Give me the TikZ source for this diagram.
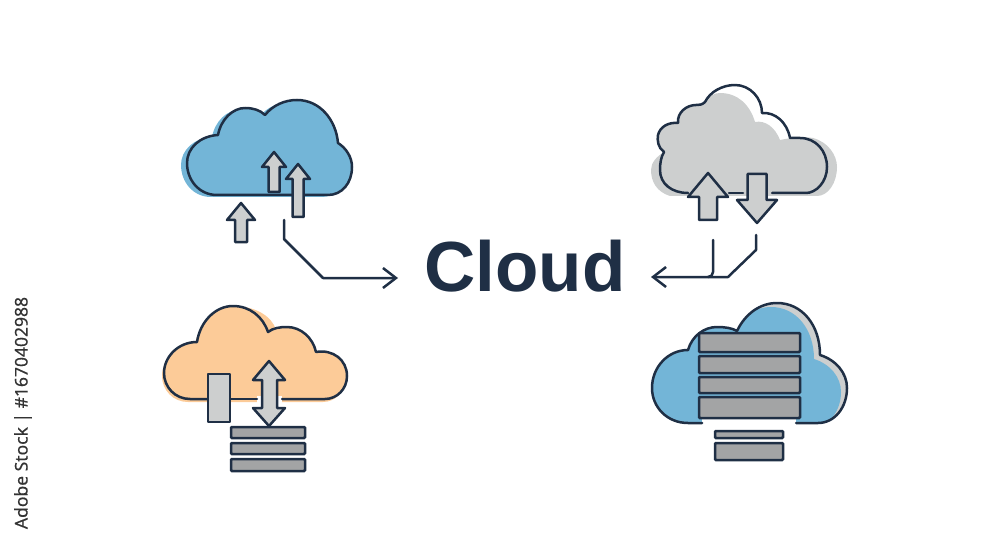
\documentclass[tikz,border=0pt]{standalone}
\usepackage{fontspec}
\setmainfont{Liberation Sans}
\newfontfamily\stampfont[FakeBold=0.4]{Noto Sans}
\usetikzlibrary{arrows.meta}
\definecolor{inkblue}{HTML}{1F2F45}
\definecolor{skyblue}{HTML}{73B5D7}
\definecolor{softgrey}{HTML}{CDCFCF}
\definecolor{peach}{HTML}{FCCB98}
\definecolor{slabgrey}{HTML}{A3A4A5}
\tikzset{
  outline/.style={draw=inkblue,line width=2.5pt,line join=round,line cap=round},
  arrowbox/.style={outline,fill=softgrey},
  slab/.style={rectangle,draw=inkblue,line width=2.5pt,rounded corners=1pt,fill=slabgrey,inner sep=0pt},
  link/.style={draw=inkblue,line width=2.5pt,line join=round,line cap=round,-{Straight Barb[length=13pt,width=20pt,line width=2.5pt]}},
}
% x, tip y, head y, head half width, shaft half width, tail y
\newcommand{\vArrow}[6]{\draw[arrowbox] (#1,#2) -- (#1+#4,#3) -- (#1+#5,#3) -- (#1+#5,#6) -- (#1-#5,#6) -- (#1-#5,#3) -- (#1-#4,#3) -- cycle;}
\newcommand{\blueCloud}{(217,195) .. controls (199,195) and (187,180) .. (187,163) .. controls (187,148) and (200,136) .. (218,135) .. controls (221,119) and (233,108) .. (245,108) .. controls (253,108) and (260,110) .. (265,115) .. controls (273,105) and (285,100) .. (297,100) .. controls (320,100) and (336,120) .. (338,143) .. controls (346,148) and (352,157) .. (352,167) .. controls (352,183) and (342,195) .. (328,195) -- cycle}
\newcommand{\peachCloud}{(207,399) -- (190,399) .. controls (175,399) and (164,387) .. (164,373) .. controls (164,357) and (178,342) .. (197,342) .. controls (200,322) and (215,306) .. (233,306) .. controls (250,306) and (263,317) .. (268,332) .. controls (273,328) and (280,327) .. (287,327) .. controls (301,327) and (313,338) .. (316,352) .. controls (333,349) and (347,360) .. (347,376) .. controls (347,389) and (337,399) .. (325,399) -- cycle}
\newcommand{\serverCloud}{(702,423) -- (688,423) .. controls (667,423) and (652,407) .. (652,388) .. controls (652,367) and (668,350) .. (688,350) .. controls (692,336) and (704,327) .. (717,327) .. controls (725,327) and (732,328) .. (737,331) .. controls (745,314) and (760,303) .. (777,303) .. controls (802,303) and (820,325) .. (820,355) .. controls (836,360) and (847,373) .. (847,388) .. controls (847,407) and (835,423) .. (818,423) -- cycle}

\begin{document}
\begin{tikzpicture}[x=1pt,y=-1pt]
    \useasboundingbox (0,0) rectangle (1000,545);

    \node[anchor=base,font=\bfseries\fontsize{71}{71}\selectfont,text=inkblue,inner sep=0pt] (title) at (525,291) {Cloud};
    \node[rotate=90,font=\stampfont\fontsize{17.5}{18}\selectfont,text=black!80,inner sep=0pt] (stamp) at (23,413) {Adobe Stock | \#1670402988};

    % top left
    \fill[skyblue,shift={(-6,2)}] \blueCloud;
    \fill[skyblue] \blueCloud;
    \draw[outline] \blueCloud;
    \vArrow{274}{152}{167}{12}{5.5}{192}
    \vArrow{298}{164}{179}{12}{5.5}{217}
    \vArrow{241}{203}{220}{14}{6}{242}
    \coordinate (blueout) at (284,220);
    \coordinate (bluein) at (398,278);
    \draw[link] (blueout) -- (284,239) -- (323,278) -- (bluein);

    % top right
    \fill[softgrey] (670,196) .. controls (657,192) and (651,182) .. (651,170) .. controls (651,163) and (656,157) .. (664,152) .. controls (658,148) and (657,140) .. (658,135) .. controls (660,127) and (668,122) .. (678,123) .. controls (677,112) and (687,105) .. (696,105) .. controls (699,105) and (702,105) .. (705,102) .. controls (709,96) and (714,93) .. (720,93) .. controls (738,93) and (750,105) .. (755,122) .. controls (765,120) and (775,127) .. (780,140) .. controls (790,138) and (802,136) .. (813,138) .. controls (828,142) and (837,155) .. (837,167) .. controls (837,183) and (828,196) .. (817,196) -- cycle;
    \draw[outline] (688,193) .. controls (672,193) and (660,184) .. (660,170) .. controls (660,163) and (661,157) .. (664,152) .. controls (658,148) and (657,140) .. (658,135) .. controls (660,127) and (668,122) .. (678,123) .. controls (677,112) and (687,105) .. (696,105) .. controls (699,105) and (702,105) .. (705,102) .. controls (710,92) and (722,85) .. (735,85) .. controls (750,85) and (762,98) .. (762,113) .. controls (775,112) and (787,122) .. (790,138) -- (800,138) .. controls (816,138) and (827,151) .. (827,167) .. controls (827,182) and (816,193) .. (806,193) -- (772,193);
    \draw[outline] (729,193) -- (743,193);
    \vArrow{708}{173}{197}{20}{9}{220}
    \vArrow{757}{223}{200}{20}{9.5}{174}
    \coordinate (greyout) at (756,235);
    \coordinate (greytap) at (713,240);
    \coordinate (greyin) at (651,277);
    \draw[link] (greyout) -- (756,250) -- (728,277) -- (greyin);
    \draw[outline] (greytap) -- (713,272) .. controls (713,275) and (711,277) .. (708,277);

    % bottom left
    \fill[peach,shift={(-2,3)}] \peachCloud;
    \fill[peach] (233,306) .. controls (255,306) and (272,316) .. (276,330) -- (268,340) -- cycle;
    \fill[peach] \peachCloud;
    \fill[white] (257,396) rectangle (282,403);
    \draw[outline] (207,399) -- (190,399) .. controls (175,399) and (164,387) .. (164,373) .. controls (164,357) and (178,342) .. (197,342) .. controls (200,322) and (215,306) .. (233,306) .. controls (250,306) and (263,317) .. (268,332) .. controls (273,328) and (280,327) .. (287,327) .. controls (301,327) and (313,338) .. (316,352) .. controls (333,349) and (347,360) .. (347,376) .. controls (347,389) and (337,399) .. (325,399) -- (282,399);
    \draw[outline] (230,399) -- (257,399);
    \draw[arrowbox] (208,374) rectangle (230,422);
    \draw[arrowbox] (269,361) -- (285,380) -- (277,380) -- (277,408) -- (285,408) -- (269,426) -- (253,408) -- (262,408) -- (262,380) -- (253,380) -- cycle;
    \foreach \n/\y/\h in {a/432.5/11,b/448.5/11,c/465/12}
             {
               \node[slab,minimum width=74pt,minimum height=\h pt] (peachslab\n) at (268,\y) {};
             };

    % bottom right
    \fill[softgrey] \serverCloud;
    \begin{scope}
      \clip \serverCloud;
      \fill[skyblue,shift={(-6,4)}] \serverCloud;
      \fill[skyblue] (650,320) rectangle (745,426);
      \fill[skyblue] (650,400) rectangle (790,426);
    \end{scope}
    \fill[white] (702,418) rectangle (796,426);
    \draw[outline] (702,423) -- (688,423) .. controls (667,423) and (652,407) .. (652,388) .. controls (652,367) and (668,350) .. (688,350) .. controls (692,336) and (704,327) .. (717,327) .. controls (725,327) and (732,328) .. (737,331) .. controls (745,314) and (760,303) .. (777,303) .. controls (802,303) and (820,325) .. (820,355) .. controls (836,360) and (847,373) .. (847,388) .. controls (847,407) and (835,423) .. (818,423) -- (796,423);
    \foreach \n/\y/\h in {a/342.5/19,b/364.5/17,c/385/16,d/407.5/21}
             {
               \node[slab,minimum width=101pt,minimum height=\h pt] (serverslab\n) at (749.5,\y) {};
             };
    \node[slab,minimum width=68pt,minimum height=7pt] (footslaba) at (749,434.5) {};
    \node[slab,minimum width=68pt,minimum height=17pt] (footslabb) at (749,451.5) {};

\end{tikzpicture}
\end{document}
